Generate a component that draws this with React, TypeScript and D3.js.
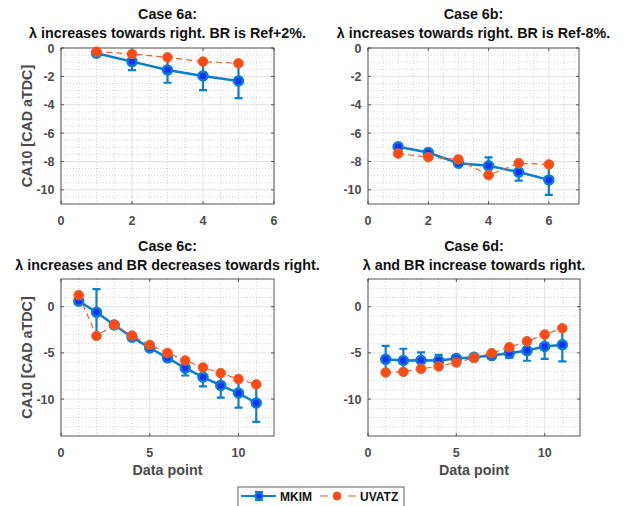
import { useEffect, useRef } from 'react'
import * as d3 from 'd3'

// data
const xA = [1, 2, 3, 4, 5]
const mkimA = [-0.37, -0.96, -1.55, -1.97, -2.32]
const errA = [0.1, 0.6, 0.9, 1.0, 1.22]
const uvatzA = [-0.26, -0.42, -0.66, -0.96, -1.08]

const xB = [1, 2, 3, 4, 5, 6]
const mkimB = [-6.97, -7.37, -8.12, -8.31, -8.75, -9.3]
const errB = [0.2, 0.2, 0.2, 0.6, 0.6, 1.05]
const uvatzB = [-7.44, -7.7, -7.86, -8.97, -8.12, -8.21]

const xCD = [1, 2, 3, 4, 5, 6, 7, 8, 9, 10, 11]
const mkimC = [0.6, -0.6, -1.98, -3.3, -4.46, -5.54, -6.65, -7.63, -8.52, -9.35, -10.43]
const errC = [0.3, 2.5, 0.2, 0.2, 0.2, 0.2, 0.8, 1.0, 1.33, 1.58, 2.05]
const uvatzC = [1.26, -3.16, -1.95, -3.13, -4.14, -5.0, -5.83, -6.58, -7.19, -7.84, -8.41]

const mkimD = [-5.7, -5.83, -5.8, -5.82, -5.6, -5.47, -5.29, -5.03, -4.75, -4.3, -4.12]
const errD = [1.45, 1.28, 0.85, 0.6, 0.2, 0.2, 0.2, 0.5, 1.1, 1.34, 1.8]
const uvatzD = [-7.12, -7.05, -6.73, -6.47, -6.04, -5.54, -5.03, -4.39, -3.74, -3.02, -2.34]

const titles = [
  ['Case 6a:', 'λ increases towards right. BR is Ref+2%.'],
  ['Case 6b:', 'λ increases towards right. BR is Ref-8%.'],
  ['Case 6c:', 'λ increases and BR decreases towards right.'],
  ['Case 6d:', 'λ and BR increase towards right.'],
]
const xTicksTop = [0, 2, 4, 6]
const yTicksTop = [0, -2, -4, -6, -8, -10]
const xTicksBottom = [0, 5, 10]
const yTicksBottom = [0, -5, -10]
const seriesNames = ['MKIM', 'UVATZ']

const BLUE = '#0a7fcf'
const BLUE_FACE = '#1530ff'
const ORANGE = '#e8602a'
const ORANGE_FACE = '#ff4a14'
const TEXT = '#4a4a4a'
const FONT = '"Liberation Sans", Arial, sans-serif'

export default function App() {
  const svgRef = useRef<SVGSVGElement>(null)

  useEffect(() => {
    const svg = d3.select(svgRef.current)
    svg.selectAll('*').remove()
    svg.append('rect').attr('width', 624).attr('height', 506).attr('fill', '#fff')

    const panels = [
      { x: xA, mkim: mkimA, err: errA, uv: uvatzA, xd: [0, 6], yd: [-11, 0], xr: [61, 274], yr: [204, 48], xt: xTicksTop, yt: yTicksTop, xm: 0.5, ym: 0.5, ylab: true, xlab: false, top: 0 },
      { x: xB, mkim: mkimB, err: errB, uv: uvatzB, xd: [0, 7], yd: [-11, 0], xr: [368, 579], yr: [204, 48], xt: xTicksTop, yt: yTicksTop, xm: 0.5, ym: 0.5, ylab: false, xlab: false, top: 0 },
      { x: xCD, mkim: mkimC, err: errC, uv: uvatzC, xd: [0, 12], yd: [-14, 3], xr: [61, 274], yr: [436, 279], xt: xTicksBottom, yt: yTicksBottom, xm: 1, ym: 1, ylab: true, xlab: true, top: 232 },
      { x: xCD, mkim: mkimD, err: errD, uv: uvatzD, xd: [0, 12], yd: [-14, 3], xr: [368, 580], yr: [436, 279], xt: xTicksBottom, yt: yTicksBottom, xm: 1, ym: 1, ylab: false, xlab: true, top: 232 },
    ]

    panels.forEach((p, i) => {
      const x = d3.scaleLinear().domain(p.xd).range(p.xr)
      const y = d3.scaleLinear().domain(p.yd).range(p.yr)
      const g = svg.append('g')
      const [x0, x1] = p.xr
      const [y1, y0] = p.yr

      // minor grid (dotted)
      const xMinor = d3.range(p.xd[0], p.xd[1] + 1e-9, p.xm).filter(v => !p.xt.includes(v))
      const yMinor = d3.range(p.yd[0], p.yd[1] + 1e-9, p.ym).filter(v => !p.yt.includes(v))
      g.selectAll('.xminor').data(xMinor).enter().append('line')
        .attr('x1', d => x(d)).attr('x2', d => x(d)).attr('y1', y0).attr('y2', y1)
        .attr('stroke', '#c8c8c8').attr('stroke-width', 0.8).attr('stroke-dasharray', '1,2')
      g.selectAll('.yminor').data(yMinor).enter().append('line')
        .attr('y1', d => y(d)).attr('y2', d => y(d)).attr('x1', x0).attr('x2', x1)
        .attr('stroke', '#c8c8c8').attr('stroke-width', 0.8).attr('stroke-dasharray', '1,2')

      // major grid
      g.selectAll('.xmajor').data(p.xt).enter().append('line')
        .attr('x1', d => x(d)).attr('x2', d => x(d)).attr('y1', y0).attr('y2', y1)
        .attr('stroke', '#e2e2e2').attr('stroke-width', 1)
      g.selectAll('.ymajor').data(p.yt).enter().append('line')
        .attr('y1', d => y(d)).attr('y2', d => y(d)).attr('x1', x0).attr('x2', x1)
        .attr('stroke', '#e2e2e2').attr('stroke-width', 1)

      // box and inward ticks
      g.append('rect').attr('x', x0).attr('y', y0).attr('width', x1 - x0).attr('height', y1 - y0)
        .attr('fill', 'none').attr('stroke', '#333').attr('stroke-width', 0.8)
      g.selectAll('.xt').data(p.xt).enter().append('path')
        .attr('d', d => `M${x(d)},${y1}v-3M${x(d)},${y0}v3`)
        .attr('stroke', '#333').attr('stroke-width', 0.8)
      g.selectAll('.yt').data(p.yt).enter().append('path')
        .attr('d', d => `M${x0},${y(d)}h3M${x1},${y(d)}h-3`)
        .attr('stroke', '#333').attr('stroke-width', 0.8)

      // tick labels
      g.selectAll('.xl').data(p.xt).enter().append('text')
        .attr('x', d => x(d)).attr('y', y1 + 21)
        .attr('text-anchor', 'middle').attr('font-family', FONT).attr('font-weight', 'bold')
        .attr('font-size', 12.5).attr('fill', TEXT).text(d => d)
      g.selectAll('.yl').data(p.yt).enter().append('text')
        .attr('x', x0 - 6.5).attr('y', d => y(d) + 4.5)
        .attr('text-anchor', 'end').attr('font-family', FONT).attr('font-weight', 'bold')
        .attr('font-size', 12.5).attr('fill', TEXT).text(d => d)

      // titles
      const cx = (x0 + x1) / 2
      titles[i].forEach((t, k) => {
        g.append('text').attr('x', cx).attr('y', p.top + 19 + k * 19)
          .attr('text-anchor', 'middle').attr('font-family', FONT).attr('font-weight', 'bold')
          .attr('font-size', 14.3).attr('fill', '#111').text(t)
      })

      if (p.ylab) {
        g.append('text')
          .attr('transform', `translate(32,${(y0 + y1) / 2}) rotate(-90)`)
          .attr('text-anchor', 'middle').attr('font-family', FONT).attr('font-weight', 'bold')
          .attr('font-size', 14.3).attr('fill', TEXT).text('CA10 [CAD aTDC]')
      }
      if (p.xlab) {
        g.append('text').attr('x', cx).attr('y', y1 + 39)
          .attr('text-anchor', 'middle').attr('font-family', FONT).attr('font-weight', 'bold')
          .attr('font-size', 14.3).attr('fill', TEXT).text('Data point')
      }

      const mk = p.x.map((v, j) => ({ x: v, y: p.mkim[j], e: p.err[j] }))
      const uv = p.x.map((v, j) => ({ x: v, y: p.uv[j] }))
      const line = d3.line<{ x: number; y: number }>().x(d => x(d.x)).y(d => y(d.y))

      // MKIM error bars + line
      g.selectAll('.eb').data(mk).enter().append('path')
        .attr('d', d => `M${x(d.x)},${y(d.y - d.e)}V${y(d.y + d.e)}M${x(d.x) - 4},${y(d.y - d.e)}h8M${x(d.x) - 4},${y(d.y + d.e)}h8`)
        .attr('stroke', BLUE).attr('stroke-width', 2.2).attr('fill', 'none')
      g.append('path').datum(mk).attr('d', line)
        .attr('stroke', BLUE).attr('stroke-width', 2.5).attr('fill', 'none')
      g.selectAll('.mkm').data(mk).enter().append('circle')
        .attr('cx', d => x(d.x)).attr('cy', d => y(d.y)).attr('r', 4.5)
        .attr('fill', BLUE_FACE).attr('stroke', BLUE).attr('stroke-width', 2.5)

      // UVATZ dashed line + markers
      g.append('path').datum(uv).attr('d', line)
        .attr('stroke', ORANGE).attr('stroke-width', 1.2).attr('stroke-dasharray', '6,4').attr('fill', 'none')
      g.selectAll('.uvm').data(uv).enter().append('circle')
        .attr('cx', d => x(d.x)).attr('cy', d => y(d.y)).attr('r', 4.8)
        .attr('fill', ORANGE_FACE).attr('stroke', ORANGE).attr('stroke-width', 1)
    })

    // legend
    const lg = svg.append('g')
    lg.append('rect').attr('x', 238).attr('y', 487).attr('width', 166).attr('height', 26)
      .attr('fill', '#fff').attr('stroke', '#333').attr('stroke-width', 0.8)
    lg.append('path').attr('d', 'M241,496H276M255,492h8M255,500h8M259,492V500')
      .attr('stroke', BLUE).attr('stroke-width', 2.2)
    lg.append('circle').attr('cx', 259).attr('cy', 496).attr('r', 3.5)
      .attr('fill', BLUE_FACE).attr('stroke', BLUE).attr('stroke-width', 2)
    lg.append('path').attr('d', 'M320,496H356')
      .attr('stroke', ORANGE).attr('stroke-width', 1.2).attr('stroke-dasharray', '8,20')
    lg.append('circle').attr('cx', 337).attr('cy', 496).attr('r', 4)
      .attr('fill', ORANGE_FACE).attr('stroke', ORANGE).attr('stroke-width', 1)
    lg.selectAll('.lt').data(seriesNames).enter().append('text')
      .attr('x', (d, k) => (k === 0 ? 280 : 360)).attr('y', 500.5)
      .attr('font-family', FONT).attr('font-weight', 'bold').attr('font-size', 12)
      .attr('fill', '#111').text(d => d)
  }, [])

  return (
    <div style={{ position: 'fixed', left: 0, top: 0 }}>
      <svg ref={svgRef} width={624} height={506} style={{ display: 'block' }} />
    </div>
  )
}
